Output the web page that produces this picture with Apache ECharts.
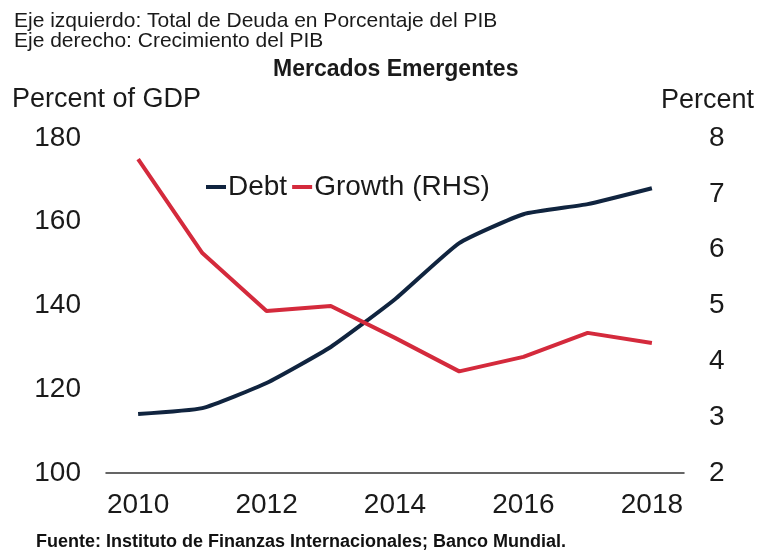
<!DOCTYPE html>
<html>
<head>
<meta charset="utf-8">
<script src="https://cdn.jsdelivr.net/npm/echarts@6/dist/echarts.min.js"></script>
<style>
  html, body { margin: 0; padding: 0; background: #fff; }
  #chart { width: 761px; height: 556px; }
</style>
</head>
<body>
<div id="chart"></div>
<script>
// Emerging markets: total debt (% of GDP, left axis) and GDP growth (%, right axis)
const years = ['2010', '2011', '2012', '2013', '2014', '2015', '2016', '2017', '2018'];
const debt = [114.1, 115.5, 121.5, 130.1, 141.5, 154.9, 161.8, 164.2, 168.0];
const growth = [7.62, 5.94, 4.90, 4.99, 4.42, 3.82, 4.08, 4.51, 4.33];

const leftTicks = { min: 100, max: 180, interval: 20 };
const rightTicks = { min: 2, max: 8, interval: 1 };

const NAVY = '#10243f';
const RED = '#d42a3c';
const FONT = 'Arial, "Liberation Sans", sans-serif';
const NARROW = '"Liberation Sans Narrow", "Arial Narrow", ' + FONT;
const INK = '#1a1a1a';

const chart = echarts.init(document.getElementById('chart'), null, { renderer: 'canvas' });

chart.setOption({
  animation: false,
  backgroundColor: '#ffffff',
  textStyle: { fontFamily: FONT },
  grid: { left: 106, right: 77, top: 138, bottom: 83 },
  legend: {
    left: 201, top: 168,
    icon: 'rect', itemWidth: 20, itemHeight: 4, itemGap: 5,
    textStyle: { fontFamily: FONT, fontSize: 28, color: INK, padding: [0, 0, 0, -3] },
    data: ['Debt', 'Growth (RHS)']
  },
  xAxis: {
    type: 'category',
    data: years,
    boundaryGap: true,
    axisLine: { show: true, lineStyle: { color: '#333', width: 1.5 } },
    axisTick: { show: false },
    axisLabel: { interval: 1, fontSize: 28, color: INK, margin: 18, fontFamily: FONT }
  },
  yAxis: [
    {
      type: 'value', position: 'left',
      min: leftTicks.min, max: leftTicks.max, interval: leftTicks.interval,
      axisLine: { show: false }, axisTick: { show: false }, splitLine: { show: false },
      axisLabel: { fontSize: 28, color: INK, margin: 25, fontFamily: FONT }
    },
    {
      type: 'value', position: 'right',
      min: rightTicks.min, max: rightTicks.max, interval: rightTicks.interval,
      axisLine: { show: false }, axisTick: { show: false }, splitLine: { show: false },
      axisLabel: { fontSize: 28, color: INK, margin: 25, fontFamily: FONT }
    }
  ],
  series: [
    {
      name: 'Debt', type: 'line', yAxisIndex: 0, data: debt,
      showSymbol: false, smooth: 0.15,
      lineStyle: { color: NAVY, width: 4 }, itemStyle: { color: NAVY }
    },
    {
      name: 'Growth (RHS)', type: 'line', yAxisIndex: 1, data: growth,
      showSymbol: false,
      lineStyle: { color: RED, width: 4 }, itemStyle: { color: RED }
    }
  ],
  graphic: [
    { type: 'text', left: 14, top: 11,
      style: { text: 'Eje izquierdo: Total de Deuda en Porcentaje del PIB', font: '21px ' + FONT, fill: INK } },
    { type: 'text', left: 14, top: 31,
      style: { text: 'Eje derecho: Crecimiento del PIB', font: '21px ' + FONT, fill: INK } },
    { type: 'text', left: 273, top: 58,
      style: { text: 'Mercados Emergentes', font: 'bold 23px ' + FONT, fill: INK } },
    { type: 'text', left: 12, top: 86,
      style: { text: 'Percent of GDP', font: '27px ' + FONT, fill: INK } },
    { type: 'text', left: 661, top: 87,
      style: { text: 'Percent', font: '27px ' + FONT, fill: INK } },
    { type: 'text', left: 36, top: 533,
      style: { text: 'Fuente: Instituto de Finanzas Internacionales; Banco Mundial.', font: 'bold 18px ' + NARROW, fill: '#111' } }
  ]
});
</script>
</body>
</html>
